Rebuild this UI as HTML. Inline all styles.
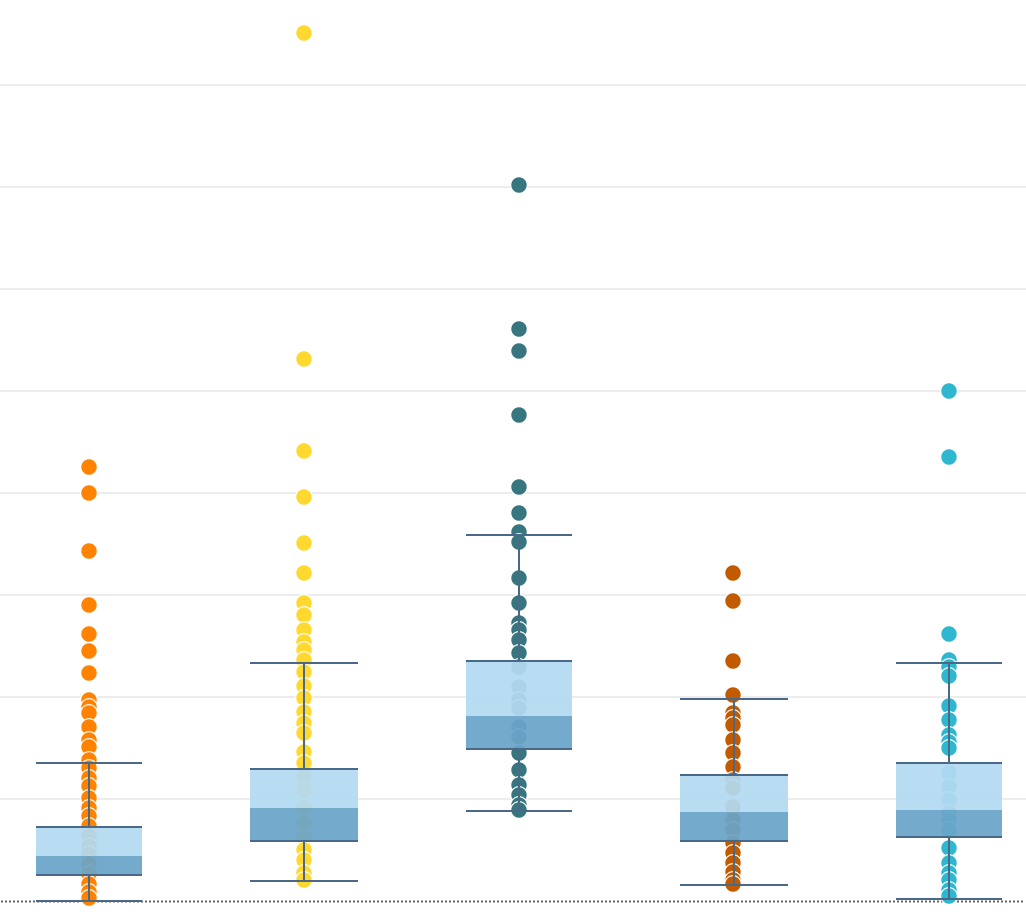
<!DOCTYPE html>
<html><head><meta charset="utf-8"><style>
html,body{margin:0;padding:0;background:#fff;}
svg{display:block;}
</style></head><body>
<svg width="1026" height="922" viewBox="0 0 1026 922" xmlns="http://www.w3.org/2000/svg">
<g stroke="#EDEDED" stroke-width="2">
<line x1="0" y1="85" x2="1026" y2="85"/>
<line x1="0" y1="187" x2="1026" y2="187"/>
<line x1="0" y1="289" x2="1026" y2="289"/>
<line x1="0" y1="391" x2="1026" y2="391"/>
<line x1="0" y1="493" x2="1026" y2="493"/>
<line x1="0" y1="595" x2="1026" y2="595"/>
<line x1="0" y1="697" x2="1026" y2="697"/>
<line x1="0" y1="799" x2="1026" y2="799"/>
</g>
<line x1="1" y1="901.5" x2="1025" y2="901.5" stroke="#666" stroke-width="2" stroke-dasharray="2 2"/>

<!-- group 1 -->
<g fill="#FF8200" stroke="#fff" stroke-width="1.2">
<circle cx="89" cy="467" r="8.3"/><circle cx="89" cy="493" r="8.3"/><circle cx="89" cy="551" r="8.3"/><circle cx="89" cy="605" r="8.3"/><circle cx="89" cy="634" r="8.3"/><circle cx="89" cy="651" r="8.3"/><circle cx="89" cy="673" r="8.3"/><circle cx="89" cy="700" r="8.3"/><circle cx="89" cy="707" r="8.3"/><circle cx="89" cy="713" r="8.3"/><circle cx="89" cy="727" r="8.3"/><circle cx="89" cy="740" r="8.3"/><circle cx="89" cy="747" r="8.3"/><circle cx="89" cy="760" r="8.3"/><circle cx="89" cy="768" r="8.3"/><circle cx="89" cy="778" r="8.3"/><circle cx="89" cy="786" r="8.3"/><circle cx="89" cy="798" r="8.3"/><circle cx="89" cy="808" r="8.3"/><circle cx="89" cy="816" r="8.3"/><circle cx="89" cy="826" r="8.3"/><circle cx="89" cy="836" r="8.3"/><circle cx="89" cy="846" r="8.3"/><circle cx="89" cy="854" r="8.3"/><circle cx="89" cy="864" r="8.3"/><circle cx="89" cy="874" r="8.3"/><circle cx="89" cy="884" r="8.3"/><circle cx="89" cy="892" r="8.3"/><circle cx="89" cy="898" r="8.3"/>
</g>
<!-- group 2 -->
<g fill="#FFD92F" stroke="#fff" stroke-width="1.2">
<circle cx="304" cy="33" r="8.3"/><circle cx="304" cy="359" r="8.3"/><circle cx="304" cy="451" r="8.3"/><circle cx="304" cy="497" r="8.3"/><circle cx="304" cy="543" r="8.3"/><circle cx="304" cy="573" r="8.3"/><circle cx="304" cy="603" r="8.3"/><circle cx="304" cy="615" r="8.3"/><circle cx="304" cy="630" r="8.3"/><circle cx="304" cy="642" r="8.3"/><circle cx="304" cy="650" r="8.3"/><circle cx="304" cy="660" r="8.3"/><circle cx="304" cy="672" r="8.3"/><circle cx="304" cy="686" r="8.3"/><circle cx="304" cy="698" r="8.3"/><circle cx="304" cy="712" r="8.3"/><circle cx="304" cy="723" r="8.3"/><circle cx="304" cy="733" r="8.3"/><circle cx="304" cy="752" r="8.3"/><circle cx="304" cy="763" r="8.3"/><circle cx="304" cy="777" r="8.3"/><circle cx="304" cy="790" r="8.3"/><circle cx="304" cy="808" r="8.3"/><circle cx="304" cy="823" r="8.3"/><circle cx="304" cy="837" r="8.3"/><circle cx="304" cy="850" r="8.3"/><circle cx="304" cy="860" r="8.3"/><circle cx="304" cy="873" r="8.3"/><circle cx="304" cy="880" r="8.3"/>
</g>
<!-- group 3 -->
<g fill="#37767F" stroke="#fff" stroke-width="1.2">
<circle cx="519" cy="185" r="8.3"/><circle cx="519" cy="329" r="8.3"/><circle cx="519" cy="351" r="8.3"/><circle cx="519" cy="415" r="8.3"/><circle cx="519" cy="487" r="8.3"/><circle cx="519" cy="513" r="8.3"/><circle cx="519" cy="532" r="8.3"/><circle cx="519" cy="542" r="8.3"/><circle cx="519" cy="578" r="8.3"/><circle cx="519" cy="603" r="8.3"/><circle cx="519" cy="623" r="8.3"/><circle cx="519" cy="630" r="8.3"/><circle cx="519" cy="640" r="8.3"/><circle cx="519" cy="653" r="8.3"/><circle cx="519" cy="667" r="8.3"/><circle cx="519" cy="687" r="8.3"/><circle cx="519" cy="700" r="8.3"/><circle cx="519" cy="708" r="8.3"/><circle cx="519" cy="727" r="8.3"/><circle cx="519" cy="737" r="8.3"/><circle cx="519" cy="753" r="8.3"/><circle cx="519" cy="770" r="8.3"/><circle cx="519" cy="785" r="8.3"/><circle cx="519" cy="795" r="8.3"/><circle cx="519" cy="805" r="8.3"/><circle cx="519" cy="810" r="8.3"/>
</g>
<!-- group 4 -->
<g fill="#C25B00" stroke="#fff" stroke-width="1.2">
<circle cx="733" cy="573" r="8.3"/><circle cx="733" cy="601" r="8.3"/><circle cx="733" cy="661" r="8.3"/><circle cx="733" cy="695" r="8.3"/><circle cx="733" cy="713" r="8.3"/><circle cx="733" cy="718" r="8.3"/><circle cx="733" cy="725" r="8.3"/><circle cx="733" cy="740" r="8.3"/><circle cx="733" cy="753" r="8.3"/><circle cx="733" cy="767" r="8.3"/><circle cx="733" cy="780" r="8.3"/><circle cx="733" cy="788" r="8.3"/><circle cx="733" cy="807" r="8.3"/><circle cx="733" cy="820" r="8.3"/><circle cx="733" cy="830" r="8.3"/><circle cx="733" cy="843" r="8.3"/><circle cx="733" cy="853" r="8.3"/><circle cx="733" cy="863" r="8.3"/><circle cx="733" cy="872" r="8.3"/><circle cx="733" cy="880" r="8.3"/><circle cx="733" cy="884" r="8.3"/>
</g>
<!-- group 5 -->
<g fill="#2FB7CF" stroke="#fff" stroke-width="1.2">
<circle cx="949" cy="391" r="8.3"/><circle cx="949" cy="457" r="8.3"/><circle cx="949" cy="634" r="8.3"/><circle cx="949" cy="660" r="8.3"/><circle cx="949" cy="667" r="8.3"/><circle cx="949" cy="676" r="8.3"/><circle cx="949" cy="706" r="8.3"/><circle cx="949" cy="720" r="8.3"/><circle cx="949" cy="735" r="8.3"/><circle cx="949" cy="742" r="8.3"/><circle cx="949" cy="748" r="8.3"/><circle cx="949" cy="773" r="8.3"/><circle cx="949" cy="787" r="8.3"/><circle cx="949" cy="800" r="8.3"/><circle cx="949" cy="813" r="8.3"/><circle cx="949" cy="820" r="8.3"/><circle cx="949" cy="830" r="8.3"/><circle cx="949" cy="848" r="8.3"/><circle cx="949" cy="863" r="8.3"/><circle cx="949" cy="873" r="8.3"/><circle cx="949" cy="880" r="8.3"/><circle cx="949" cy="890" r="8.3"/><circle cx="949" cy="896" r="8.3"/>
</g>

<!-- boxes -->
<g opacity="0.93">
<rect x="36" y="827" width="106" height="29" fill="#B3DAF2"/><rect x="36" y="856" width="106" height="19" fill="#6AA5C9"/>
<rect x="250" y="769" width="108" height="39" fill="#B3DAF2"/><rect x="250" y="808" width="108" height="33" fill="#6AA5C9"/>
<rect x="466" y="661" width="106" height="55" fill="#B3DAF2"/><rect x="466" y="716" width="106" height="33" fill="#6AA5C9"/>
<rect x="680" y="775" width="108" height="37" fill="#B3DAF2"/><rect x="680" y="812" width="108" height="29" fill="#6AA5C9"/>
<rect x="896" y="763" width="106" height="47" fill="#B3DAF2"/><rect x="896" y="810" width="106" height="27" fill="#6AA5C9"/>
</g>
<g stroke="#4A6888" stroke-width="2" fill="none">
<line x1="36" y1="763" x2="142" y2="763"/><line x1="36" y1="827" x2="142" y2="827"/><line x1="36" y1="875" x2="142" y2="875"/><line x1="36" y1="901" x2="142" y2="901"/>
<line x1="89" y1="763" x2="89" y2="827"/><line x1="89" y1="875" x2="89" y2="901"/>
<line x1="250" y1="663" x2="358" y2="663"/><line x1="250" y1="769" x2="358" y2="769"/><line x1="250" y1="841" x2="358" y2="841"/><line x1="250" y1="881" x2="358" y2="881"/>
<line x1="304" y1="663" x2="304" y2="769"/><line x1="304" y1="841" x2="304" y2="881"/>
<line x1="466" y1="535" x2="572" y2="535"/><line x1="466" y1="661" x2="572" y2="661"/><line x1="466" y1="749" x2="572" y2="749"/><line x1="466" y1="811" x2="572" y2="811"/>
<line x1="519" y1="535" x2="519" y2="661"/><line x1="519" y1="749" x2="519" y2="811"/>
<line x1="680" y1="699" x2="788" y2="699"/><line x1="680" y1="775" x2="788" y2="775"/><line x1="680" y1="841" x2="788" y2="841"/><line x1="680" y1="885" x2="788" y2="885"/>
<line x1="734" y1="699" x2="734" y2="775"/><line x1="734" y1="841" x2="734" y2="885"/>
<line x1="896" y1="663" x2="1002" y2="663"/><line x1="896" y1="763" x2="1002" y2="763"/><line x1="896" y1="837" x2="1002" y2="837"/><line x1="896" y1="899" x2="1002" y2="899"/>
<line x1="949" y1="663" x2="949" y2="763"/><line x1="949" y1="837" x2="949" y2="899"/>
</g>
</svg>
</body></html>
